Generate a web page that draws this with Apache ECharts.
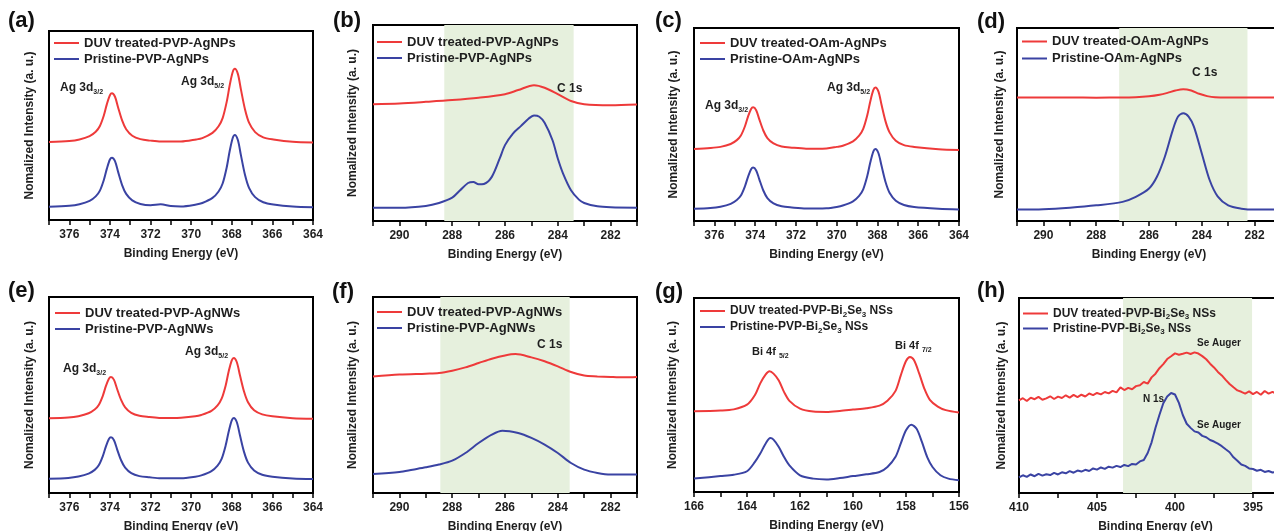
<!DOCTYPE html>
<html><head><meta charset="utf-8">
<script src="https://cdn.jsdelivr.net/npm/echarts@6/dist/echarts.min.js"></script>
<style>html,body{margin:0;padding:0;background:#fff}#c{width:1274px;height:531px}</style>
</head><body><div id="c"></div>
<script>
// ---------------- DATA (y = % of plot height) ----------------
// (a) Ag 3d, PVP-AgNPs
const aX    = [377,376,375.5,375,374.7,374.5,374.3,374.15,374.0,373.9,373.75,373.6,373.4,373.2,372.9,372.5,372.0,371.5,371,370.5,
               369.75,369.45,368.95,368.65,368.45,368.25,368.1,367.95,367.85,367.7,367.55,367.35,367.15,366.85,366.45,365.95,365,364];
const aRed  = [41.3,41.8,42.6,44.4,46.7,49.6,55.3,61.3,66.0,67.0,65.2,59.7,52.7,48.0,44.6,42.8,42.0,41.5,41.5,41.5,
               42.6,43.3,46.1,49.6,53.9,62.5,71.4,78.4,80.0,77.3,69.1,58.6,51.5,46.5,43.7,42.6,41.4,41.0];
const aBlue = [7.0,7.5,8.3,10.1,12.5,15.4,21.2,27.2,32.0,33.0,31.2,25.6,18.5,13.8,10.4,8.5,7.8,8.3,7.4,7.2,
               8.2,9.0,11.7,15.1,19.3,27.8,36.6,43.5,45.0,42.3,34.3,23.9,17.0,12.1,9.4,8.2,7.1,6.7];
// (b) C 1s, PVP-AgNPs
const bRedX  = [291,290,289,288,287,286,285.5,284.9,284.5,284,283.5,283,282,281];
const bRed   = [59.6,60.0,60.8,61.7,62.9,64.7,66.8,69.3,68.0,64.7,61.2,59.6,59.1,59.5];
const bBlueX = [291,290,289,288.5,288,287.7,287.4,287.2,287,286.8,286.5,286.2,286,285.7,285.4,285.1,284.9,284.7,284.5,284.2,284,283.8,283.5,283.2,283,282.5,282,281];
const bBlue  = [6.8,6.8,7.7,9.2,11.9,15.7,19.4,19.9,18.7,18.9,22.5,31.9,38.7,44.6,48.4,52.3,53.8,53.2,50.1,41.2,31.9,24.2,15.7,10.9,9.2,7.5,7.0,6.8];
const bBand  = [288.3,283.4];
// (c) Ag 3d, OAm-AgNPs
const cX    = [377,376.2,375.7,375.2,374.9,374.7,374.5,374.35,374.2,374.1,373.95,373.8,373.6,373.4,373.1,372.7,372.2,371.5,371,370.5,
               370,369.7,369.2,368.9,368.7,368.5,368.35,368.2,368.1,367.95,367.8,367.6,367.4,367.1,366.7,366.2,365,364];
const cRed  = [37.3,37.8,38.4,39.9,41.9,44.3,49.1,54.1,58.0,58.9,57.4,52.8,46.9,43.0,40.2,38.6,38.0,37.5,37.5,37.6,
               38.4,39.0,41.3,44.2,47.7,54.8,62.1,67.9,69.2,67.0,60.2,51.5,45.8,41.6,39.3,38.4,37.2,36.8];
const cBlue = [6.3,6.7,7.4,8.9,10.9,13.2,18.0,22.9,26.8,27.7,26.2,21.7,15.8,11.9,9.1,7.6,7.0,6.5,6.5,6.6,
               7.3,8.0,10.2,13.0,16.4,23.3,30.4,36.1,37.3,35.1,28.6,20.1,14.5,10.5,8.3,7.3,6.4,6.0];
// (d) C 1s, OAm-AgNPs
const dRedX  = [291,290,289,288,287,286.5,286,285.6,285.3,285,284.7,284.4,284.1,283.8,283.5,283,282,281];
const dRed   = [64.0,64.0,64.0,63.9,64.0,64.1,64.6,65.4,66.4,67.6,68.3,67.6,65.9,64.7,64.1,64.0,64.0,64.0];
const dBlueX = [291,290,289,288,287,286.5,286,285.7,285.4,285.1,284.9,284.7,284.5,284.3,284.0,283.7,283.4,283,282.5,282,281];
const dBlue  = [5.9,6.1,6.9,8.1,9.9,12.5,16.8,22.9,33.3,47.1,54.1,55.8,54.1,48.9,35.0,21.1,12.8,8.1,6.4,5.9,5.9];
const dBand  = [287.13,282.27];
// (e) Ag 3d, PVP-AgNWs
const eX    = [377,376.05,375.55,375.05,374.75,374.55,374.35,374.2,374.05,373.95,373.8,373.65,373.45,373.25,372.95,372.55,372.05,371.5,371,370.5,
               369.8,369.5,369.0,368.7,368.5,368.3,368.15,368.0,367.9,367.75,367.6,367.4,367.2,366.9,366.5,366.0,365,364];
const eRed  = [38.1,38.5,39.2,40.7,42.6,44.9,49.6,54.5,58.3,59.2,57.7,53.2,47.5,43.7,40.9,39.4,38.8,38.3,38.3,38.4,
               39.1,39.8,41.9,44.7,48.1,54.9,62.1,67.7,68.9,66.7,60.2,51.9,46.3,42.2,40.1,39.1,38.2,37.9];
const eBlue = [7.3,7.7,8.4,9.9,11.8,14.1,18.8,23.7,27.5,28.4,26.9,22.4,16.7,12.9,10.1,8.6,8.0,7.5,7.5,7.5,
               8.3,9.0,11.2,14.0,17.4,24.3,31.4,37.1,38.3,36.1,29.6,21.1,15.5,11.5,9.3,8.3,7.4,7.1];
// (f) C 1s, PVP-AgNWs
const fRedX  = [291,290,289,288.5,288,287.5,287,286.5,286,285.6,285,284.5,284,283.5,283,282.5,282,281.5,281];
const fRed   = [59.5,60.4,60.9,61.2,62.4,64.1,66.3,68.5,70.2,70.9,69.2,67.2,64.6,61.7,59.9,59.5,59.2,59.0,59.2];
const fBlueX = [291,290,289.5,289,288.5,288,287.5,287,286.5,286.1,285.5,285,284.5,284,283.5,283,282.5,282,281];
const fBlue  = [9.7,10.7,11.9,13.1,14.5,16.5,20.4,25.5,29.8,31.8,30.6,28.1,24.7,20.4,15.3,11.9,10.2,9.4,9.4];
const fBand  = [288.45,283.55];
// (g) Bi 4f, PVP-Bi2Se3 NSs
const gRedX  = [166,165,164.5,164,163.7,163.5,163.3,163.15,163.0,162.8,162.6,162.4,162.0,161.5,161,160.5,160,159.5,159,158.7,
                158.4,158.2,158.0,157.85,157.7,157.5,157.3,157.1,156.8,156.5,156];
const gRed   = [41.6,42.0,42.6,45.0,50.0,56.0,60.5,62.2,61.0,57.5,51.5,47.0,43.0,41.5,41.3,41.8,42.5,43.2,44.5,47.0,
                52.0,60.0,67.5,69.6,68.0,61.0,53.0,47.5,44.0,42.2,41.0];
const gBlueX = [166,165,164.5,164,163.7,163.5,163.3,163.12,163.0,162.8,162.6,162.4,162,161.5,161,160.5,160,159.5,159,158.7,
                158.4,158.2,158.0,157.8,157.6,157.4,157.2,157,156.7,156.4,156];
const gBlue  = [6.9,8.2,8.9,10.7,15.5,19.8,24.9,27.8,27.0,23.2,18.0,13.7,8.6,6.9,6.5,7.2,8.2,9.1,10.3,12.9,
                18.0,24.9,31.8,34.7,32.6,25.8,18.0,12.9,8.6,6.9,6.0];
// (h) N 1s / Se Auger, PVP-Bi2Se3 NSs
const hX    = [410,409.75,409.5,409.25,409,408.75,408.5,408.25,408,407.75,407.5,407.25,407,406.75,406.5,406.25,406,405.75,405.5,405.25,
               405,404.75,404.5,404.25,404,403.75,403.5,403.25,403,402.75,402.5,402.25,402,401.75,401.5,401.25,401,400.75,400.5,400.25,
               400,399.75,399.5,399.25,399,398.75,398.5,398.25,398,397.75,397.5,397.25,397,396.75,396.5,396.25,396,395.75,395.5,395.25,
               395,394.75,394.5,394.25,394,393.75,393.5,393.25,393];
const hRed  = [47.5,48.6,47.2,48.9,48.1,49.3,47.8,48.5,49.6,48.2,49.4,48.7,50.1,48.9,50.3,49.2,50.4,49.5,51.0,50.2,
               51.3,50.6,51.8,51.1,52.4,51.6,54.2,52.8,53.9,53.2,54.8,55.3,56.9,56.1,59.3,61.2,64.0,66.1,68.7,70.1,
               71.6,70.9,71.4,72.0,71.3,72.1,71.5,70.2,68.6,66.3,64.4,62.1,60.3,58.0,55.9,54.2,52.6,51.9,51.0,52.1,
               50.7,51.8,50.4,52.3,51.0,51.9,50.8,51.6,51.2];
const hBlue = [8.0,9.1,8.3,9.5,8.6,9.8,8.9,9.6,9.2,10.3,9.5,10.6,10.1,11.2,10.4,11.5,11.0,11.9,11.3,12.6,
               12.0,13.1,12.4,13.5,13.0,13.9,13.3,14.4,13.8,14.9,14.6,16.2,16.9,20.5,26.0,33.5,40.0,46.0,49.5,51.3,
               50.5,46.2,40.0,35.5,33.4,31.6,31.0,29.3,28.6,27.2,26.4,25.3,24.0,22.4,20.9,18.3,16.5,14.6,13.9,12.6,
               12.3,11.4,11.9,10.8,11.3,10.5,10.9,10.2,10.6];
const hBand = [403.33,395.06];

// Names / labels
const letters = ['(a)','(b)','(c)','(d)','(e)','(f)','(g)','(h)'];
const xTitle = 'Binding Energy (eV)';
const yTitle = 'Nomalized Intensity (a. u.)';

// ---------------- LAYOUT / STYLE ----------------
const FONT = '"Liberation Sans", Arial, Helvetica, sans-serif';
const RED = '#ee3a3a', BLUE = '#3a43a3', BAND = '#e6f0dd', INK = '#1e1e1e';

const panels = [
 {grid:{left:49,top:31,width:264,height:189}, min:364,max:377,step:1,lab:2, band:null, yGap:13,
  s:[[aX,aRed,'DUV treated-PVP-AgNPs'],[aX,aBlue,'Pristine-PVP-AgNPs']], lg:{left:54,top:35,lh:16,fs:13}, L:[8,10]},
 {grid:{left:373,top:25,width:264,height:196}, min:281,max:291,step:1,lab:2, band:bBand, yGap:14,
  s:[[bRedX,bRed,'DUV treated-PVP-AgNPs'],[bBlueX,bBlue,'Pristine-PVP-AgNPs']], lg:{left:377,top:34,lh:16,fs:13}, L:[333,10]},
 {grid:{left:694,top:28,width:265,height:193}, min:364,max:377,step:1,lab:2, band:null, yGap:14,
  s:[[cX,cRed,'DUV treated-OAm-AgNPs'],[cX,cBlue,'Pristine-OAm-AgNPs']], lg:{left:700,top:35,lh:16,fs:13}, L:[655,10]},
 {grid:{left:1017,top:28,width:264,height:193}, min:281,max:291,step:1,lab:2, band:dBand, yGap:11,
  s:[[dRedX,dRed,'DUV treated-OAm-AgNPs'],[dBlueX,dBlue,'Pristine-OAm-AgNPs']], lg:{left:1022,top:33,lh:17,fs:13}, L:[977,11]},
 {grid:{left:49,top:297,width:264,height:196}, min:364,max:377,step:1,lab:2, band:null, yGap:13,
  s:[[eX,eRed,'DUV treated-PVP-AgNWs'],[eX,eBlue,'Pristine-PVP-AgNWs']], lg:{left:55,top:305,lh:16,fs:13}, L:[8,280]},
 {grid:{left:373,top:297,width:264,height:196}, min:281,max:291,step:1,lab:2, band:fBand, yGap:14,
  s:[[fRedX,fRed,'DUV treated-PVP-AgNWs'],[fBlueX,fBlue,'Pristine-PVP-AgNWs']], lg:{left:377,top:304,lh:16,fs:13}, L:[332,281]},
 {grid:{left:694,top:298,width:265,height:194}, min:156,max:166,step:1,lab:2, band:null, yGap:15,
  s:[[gRedX,gRed,'DUV treated-PVP-Bi2Se3 NSs'],[gBlueX,gBlue,'Pristine-PVP-Bi2Se3 NSs']], lg:{left:700,top:303,lh:16,fs:12}, L:[655,281]},
 {grid:{left:1019,top:298,width:273,height:195}, min:392.5,max:410,step:2.5,lab:5, band:hBand, yGap:11,
  s:[[hX,hRed,'DUV treated-PVP-Bi2Se3 NSs'],[hX,hBlue,'Pristine-PVP-Bi2Se3 NSs']], lg:{left:1023,top:306,lh:15,fs:12}, L:[977,280], raw:true}
];

const annots = [
 {x:60,  y:90,  m:'Ag 3d', s:'3/2', f:12},
 {x:181, y:84,  m:'Ag 3d', s:'5/2', f:12},
 {x:557, y:91,  m:'C 1s', f:12},
 {x:705, y:108, m:'Ag 3d', s:'3/2', f:12},
 {x:827, y:90,  m:'Ag 3d', s:'5/2', f:12},
 {x:1192,y:75,  m:'C 1s', f:12},
 {x:63,  y:371, m:'Ag 3d', s:'3/2', f:12},
 {x:185, y:354, m:'Ag 3d', s:'5/2', f:12},
 {x:537, y:347, m:'C 1s', f:12},
 {x:752, y:354, m:'Bi 4f ', s:'5/2', f:11},
 {x:895, y:348, m:'Bi 4f ', s:'7/2', f:11},
 {x:1197,y:346, m:'Se Auger', f:10},
 {x:1143,y:402, m:'N 1s', f:10},
 {x:1197,y:428, m:'Se Auger', f:10}
];

const zip = (X, Y) => X.map((x, i) => [x, Y[i]]);
const subName = n => n.indexOf('Bi2Se3') >= 0
  ? '{m|' + n.replace('Bi2Se3', 'Bi}{s|2}{m|Se}{s|3}{m|') + '}'
  : '{m|' + n + '}';

const option = {
  animation: false,
  backgroundColor: '#fff',
  grid: [], xAxis: [], yAxis: [], series: [], legend: [], graphic: []
};

panels.forEach((p, i) => {
  option.grid.push(Object.assign({show:true, borderColor:'#000', borderWidth:2, backgroundColor:'transparent',
    containLabel:false, outerBoundsMode:'none'}, p.grid));
  option.xAxis.push({
    gridIndex:i, type:'value', inverse:true, min:p.min, max:p.max, interval:p.step,
    axisLine:{show:true, onZero:false, lineStyle:{color:'#000', width:2}},
    axisTick:{show:true, inside:false, length:5, lineStyle:{color:'#000', width:1.5}},
    splitLine:{show:false},
    axisLabel:{margin:9, color:INK, fontSize:12, fontWeight:'bold', fontFamily:FONT,
      formatter: v => (Math.abs(v / p.lab - Math.round(v / p.lab)) < 1e-6 ? String(v) : '')},
    name:xTitle, nameLocation:'middle', nameGap:28,
    nameTextStyle:{color:INK, fontSize:12, fontWeight:'bold', fontFamily:FONT}
  });
  option.yAxis.push({
    gridIndex:i, type:'value', min:0, max:100,
    axisLine:{show:false}, axisTick:{show:false}, axisLabel:{show:false}, splitLine:{show:false},
    name:yTitle, nameLocation:'middle', nameRotate:90, nameGap:p.yGap,
    nameTextStyle:{color:INK, fontSize:12, fontWeight:'bold', fontFamily:FONT}
  });
  p.s.forEach((s, k) => {
    const ser = {
      type:'line', name:s[2], xAxisIndex:i, yAxisIndex:i, data:zip(s[0], s[1]),
      symbol:'none', smooth: p.raw ? false : 0.3, z: 3,
      lineStyle:{color: k === 0 ? RED : BLUE, width:2},
      itemStyle:{color: k === 0 ? RED : BLUE}
    };
    if (k === 0 && p.band) {
      ser.markArea = {silent:true, itemStyle:{color:BAND}, data:[[{xAxis:p.band[0]}, {xAxis:p.band[1]}]]};
    }
    option.series.push(ser);
  });
  option.legend.push({
    left:p.lg.left, top:p.lg.top, orient:'vertical', padding:0, itemGap:0,
    icon:'rect', itemWidth:25, itemHeight:2, selectedMode:false, z:10,
    data:[p.s[0][2], p.s[1][2]],
    formatter: subName,
    textStyle:{color:INK, fontSize:p.lg.fs, fontWeight:'bold', fontFamily:FONT, lineHeight:p.lg.lh,
      rich:{
        m:{color:INK, fontSize:p.lg.fs, fontWeight:'bold', fontFamily:FONT, lineHeight:p.lg.lh, verticalAlign:'middle'},
        s:{color:INK, fontSize:8, fontWeight:'bold', fontFamily:FONT, lineHeight:6, verticalAlign:'bottom'}
      }}
  });
  option.graphic.push({type:'text', left:p.L[0], top:p.L[1], z:20,
    style:{text:letters[i], fill:'#111', fontSize:22, fontWeight:'bold', fontFamily:FONT}});
});

annots.forEach(a => {
  option.graphic.push({type:'text', left:a.x, top:a.y - 8, z:20,
    style:{
      text: a.s ? '{m|' + a.m + '}{s|' + a.s + '}' : '{m|' + a.m + '}',
      rich:{
        m:{fill:INK, fontSize:a.f, fontWeight:'bold', fontFamily:FONT, lineHeight:16, verticalAlign:'middle'},
        s:{fill:INK, fontSize:Math.round(a.f * 0.62), fontWeight:'bold', fontFamily:FONT, lineHeight:6, verticalAlign:'bottom'}
      }
    }});
});

const chart = echarts.init(document.getElementById('c'), null, {renderer:'canvas'});
chart.setOption(option);
</script>
</body></html>
